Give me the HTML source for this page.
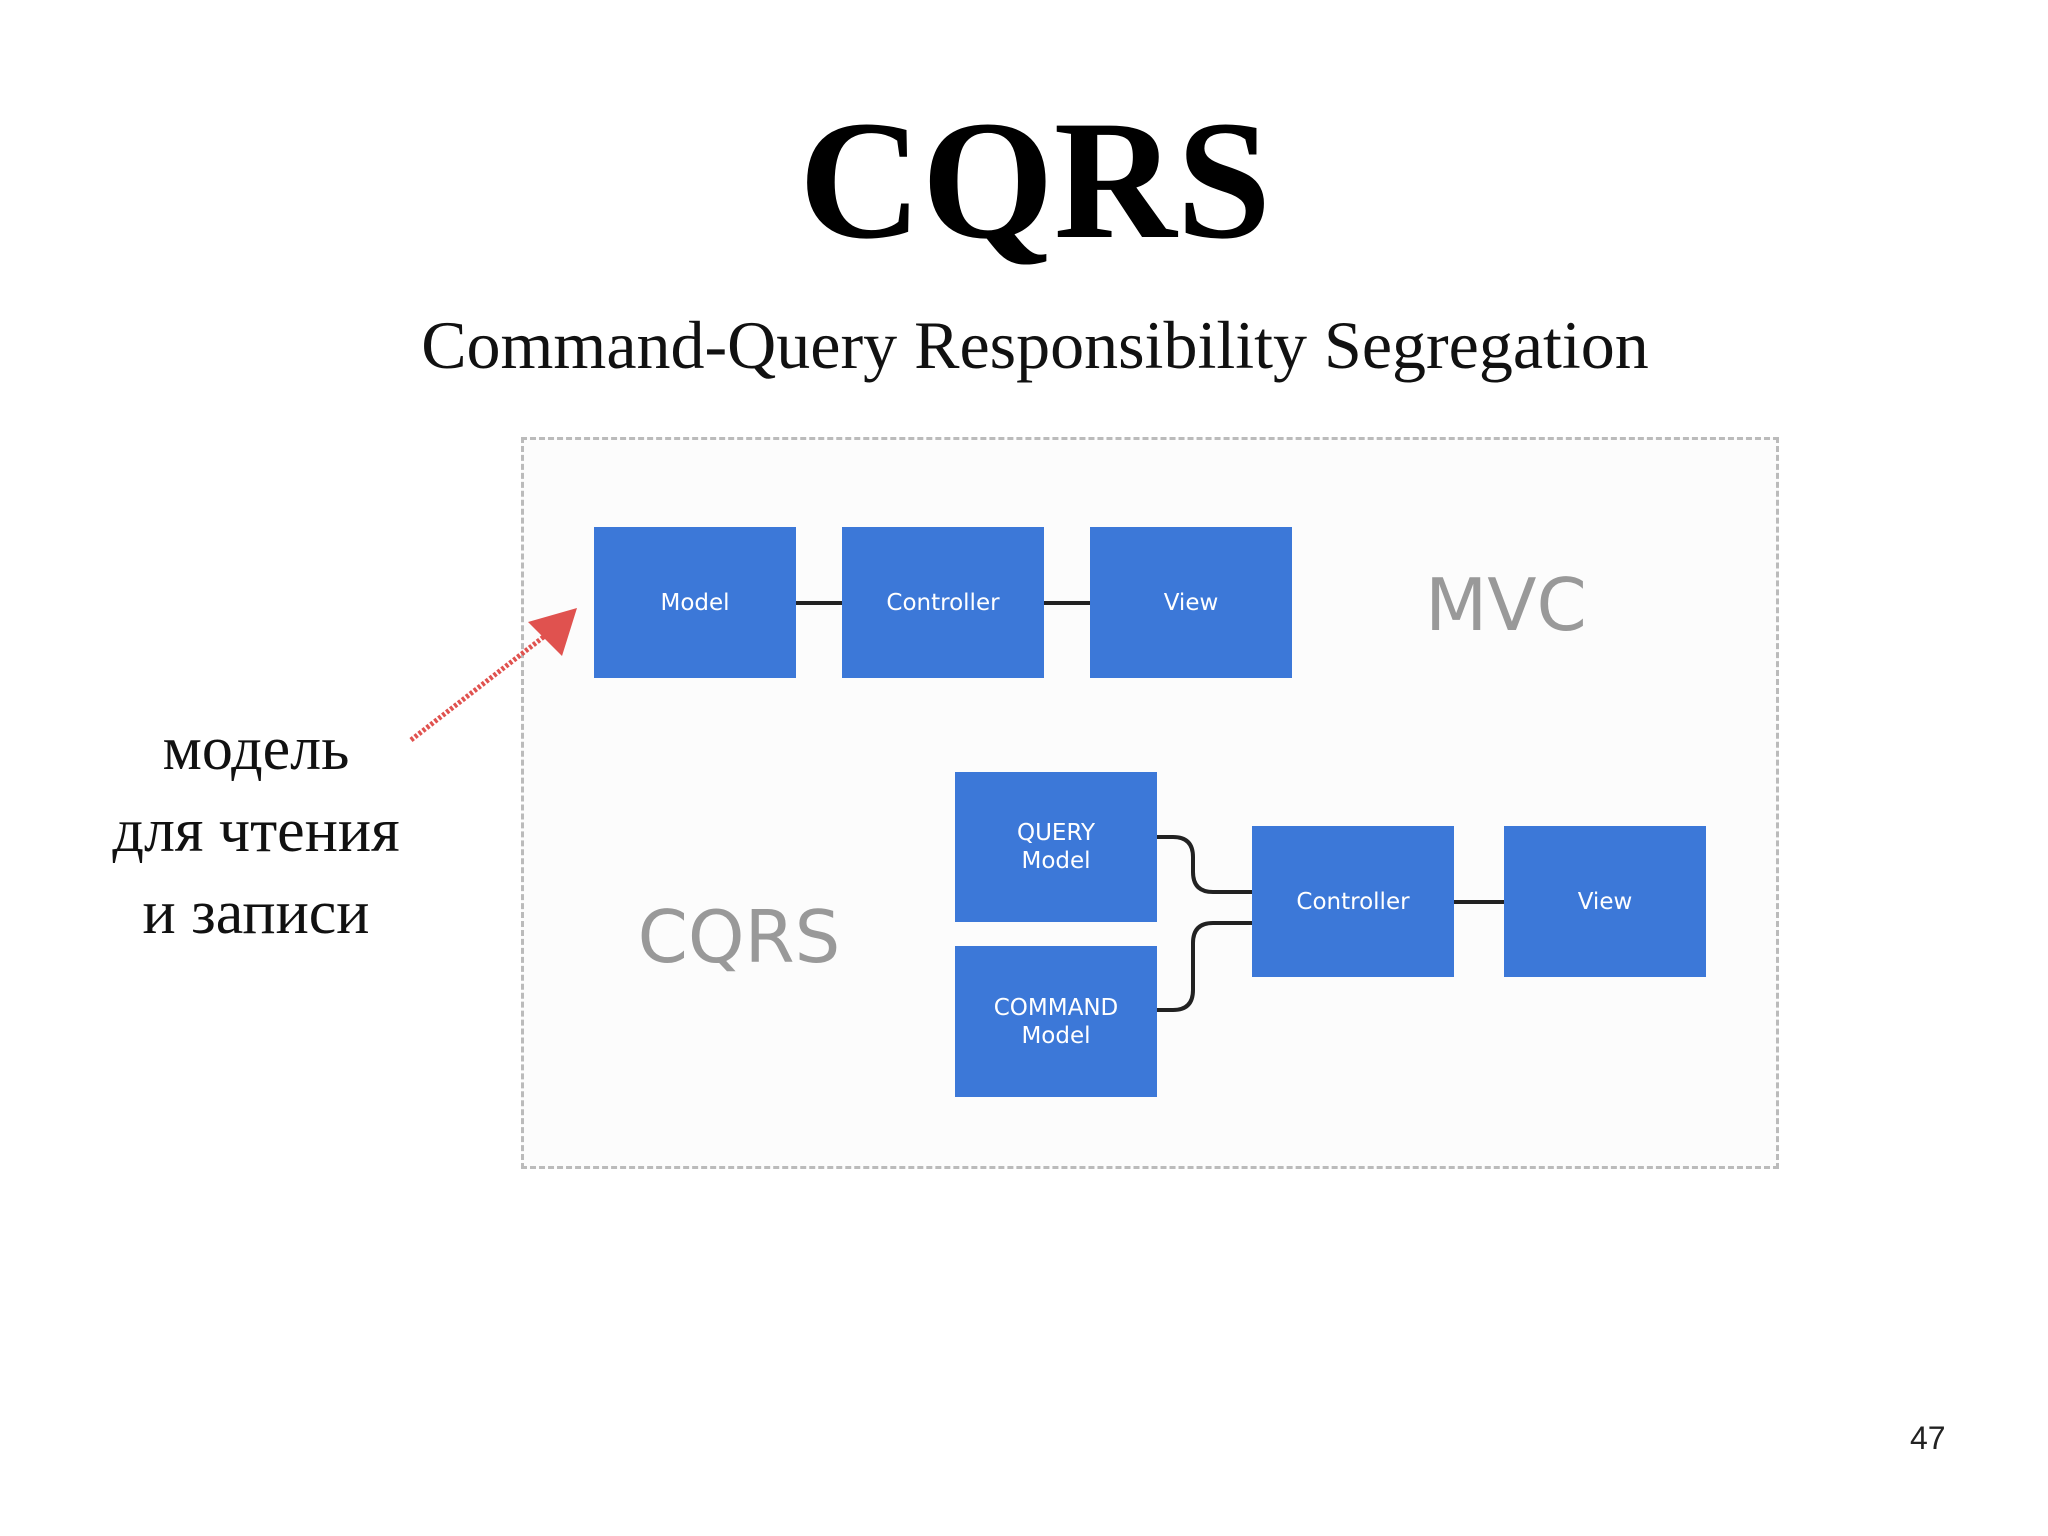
<!DOCTYPE html>
<html><head><meta charset="utf-8"><style>
body{margin:0;width:2048px;height:1536px;background:#fff;overflow:hidden;position:relative;font-family:"Liberation Sans",sans-serif}
.t{position:absolute;white-space:nowrap}
.b{position:absolute;background:#3c78d8;color:#fff;font-family:"DejaVu Sans","Liberation Sans",sans-serif;font-size:23px;display:flex;align-items:center;justify-content:center;text-align:center;line-height:28px}
</style></head><body>
<div class="t" style="left:0;width:2070px;text-align:center;top:80px;font-family:'Liberation Serif',serif;font-weight:bold;font-size:170px;line-height:200px;color:#000">CQRS</div>
<div class="t" style="left:0;width:2070px;text-align:center;top:300px;font-family:'Liberation Serif',serif;font-size:68px;line-height:90px;color:#111">Command-Query Responsibility Segregation</div>
<div style="position:absolute;left:521px;top:437px;width:1252px;height:726px;border:3px dashed #bbb;background:#fcfcfc"></div>
<svg style="position:absolute;left:0;top:0" width="2048" height="1536">
<g stroke="#222" stroke-width="4" fill="none">
<line x1="796" y1="603" x2="842" y2="603"/>
<line x1="1044" y1="603" x2="1090" y2="603"/>
<line x1="1454" y1="902" x2="1504" y2="902"/>
<path d="M1157 837 H1173 Q1193 837 1193 857 V872 Q1193 892 1213 892 H1252"/>
<path d="M1157 1010 H1173 Q1193 1010 1193 990 V943 Q1193 923 1213 923 H1252"/>
</g>
<line x1="411" y1="740" x2="555" y2="628" stroke="#e0524f" stroke-width="5" stroke-dasharray="3 2"/>
<polygon points="577,608 528,622 562,656" fill="#e0524f"/>
</svg>
<div class="b" style="left:594px;top:527px;width:202px;height:151px">Model</div>
<div class="b" style="left:842px;top:527px;width:202px;height:151px">Controller</div>
<div class="b" style="left:1090px;top:527px;width:202px;height:151px">View</div>
<div class="b" style="left:955px;top:772px;width:202px;height:150px">QUERY<br>Model</div>
<div class="b" style="left:955px;top:946px;width:202px;height:151px">COMMAND<br>Model</div>
<div class="b" style="left:1252px;top:826px;width:202px;height:151px">Controller</div>
<div class="b" style="left:1504px;top:826px;width:202px;height:151px">View</div>
<div class="t" style="left:1406px;width:200px;text-align:center;top:560px;font-family:'DejaVu Sans',sans-serif;font-size:72px;line-height:90px;color:#999">MVC</div>
<div class="t" style="left:619px;width:240px;text-align:center;top:892px;font-family:'DejaVu Sans',sans-serif;font-size:72px;line-height:90px;color:#999">CQRS</div>
<div class="t" style="left:36px;width:440px;text-align:center;top:708px;font-family:'Liberation Serif',serif;font-size:62px;line-height:82px;color:#111">модель<br>для чтения<br>и записи</div>
<div class="t" style="left:1910px;top:1420px;font-size:32px;color:#222">47</div>
</body></html>
